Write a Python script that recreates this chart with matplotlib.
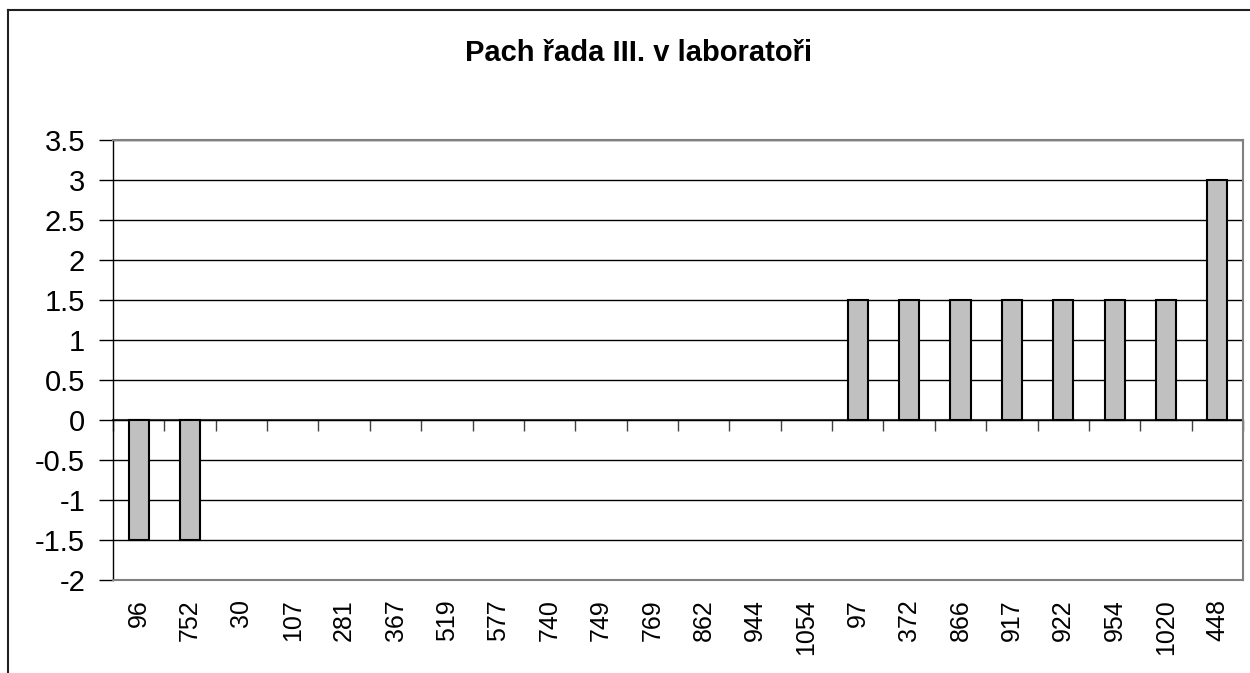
import matplotlib
matplotlib.use("Agg")
from matplotlib import pyplot as plt
from matplotlib.lines import Line2D
import numpy as np

plt.rcParams['font.family'] = ['Liberation Sans', 'DejaVu Sans']

labels = ['96', '752', '30', '107', '281', '367', '519', '577', '740', '749',
          '769', '862', '944', '1054', '97', '372', '866', '917', '922', '954',
          '1020', '448']
values = [-1.5, -1.5, 0, 0, 0, 0, 0, 0, 0, 0,
          0, 0, 0, 0, 1.5, 1.5, 1.5, 1.5, 1.5, 1.5,
          1.5, 3]
yticks = [-2, -1.5, -1, -0.5, 0, 0.5, 1, 1.5, 2, 2.5, 3, 3.5]
ytick_labels = ['-2', '-1.5', '-1', '-0.5', '0', '0.5', '1', '1.5', '2', '2.5', '3', '3.5']
title = 'Pach řada III. v laboratoři'

W, H = 1250, 673
fig = plt.figure(figsize=(W / 100, H / 100), dpi=100)
ax = fig.add_axes([113 / W, 1 - 580 / H, (1243 - 113) / W, (580 - 140) / H])

x = np.arange(len(labels))
ax.set_axisbelow(True)
edges = ['black' if v != 0 else 'none' for v in values]
ax.bar(x, values, width=0.39, color='#c0c0c0', edgecolor=edges, linewidth=1.5, zorder=3)

ax.set_xlim(-0.5, len(labels) - 0.5)
ax.set_ylim(-2, 3.5)
ax.set_yticks(yticks)
ax.set_yticklabels(ytick_labels, fontsize=21)
ax.tick_params(axis='y', direction='out', length=10, width=1, pad=10)
ax.yaxis.grid(True, color='black', linewidth=1)

ax.set_xticks(x)
ax.set_xticklabels(labels, rotation=90, fontsize=18)
ax.tick_params(axis='x', length=0, pad=14)

for s in ['top', 'right', 'bottom']:
    ax.spines[s].set_color('#808080')
    ax.spines[s].set_linewidth(1.5)
ax.spines['left'].set_color('black')
ax.spines['left'].set_linewidth(1)

# category axis crossing at zero, with ticks between categories
sec = ax.secondary_xaxis(2 / 5.5)
sec.set_xticks(np.arange(len(labels) + 1) - 0.5)
sec.set_xticklabels([])
sec.tick_params(direction='out', length=8, width=1, color='#404040')
sec.spines['bottom'].set_color('#404040')
sec.spines['bottom'].set_linewidth(1.5)

fig.text(639 / W, 1 - 53 / H, title, fontsize=21, fontweight='bold', ha='center', va='center')

# chart area frame (left and top edges visible)
fig.add_artist(Line2D([8 / W, 8 / W], [0, 1 - 10 / H], color='#202020', linewidth=1.5))
fig.add_artist(Line2D([8 / W, 1], [1 - 10 / H, 1 - 10 / H], color='#202020', linewidth=1.5))

fig.savefig('out.png', dpi=100)
